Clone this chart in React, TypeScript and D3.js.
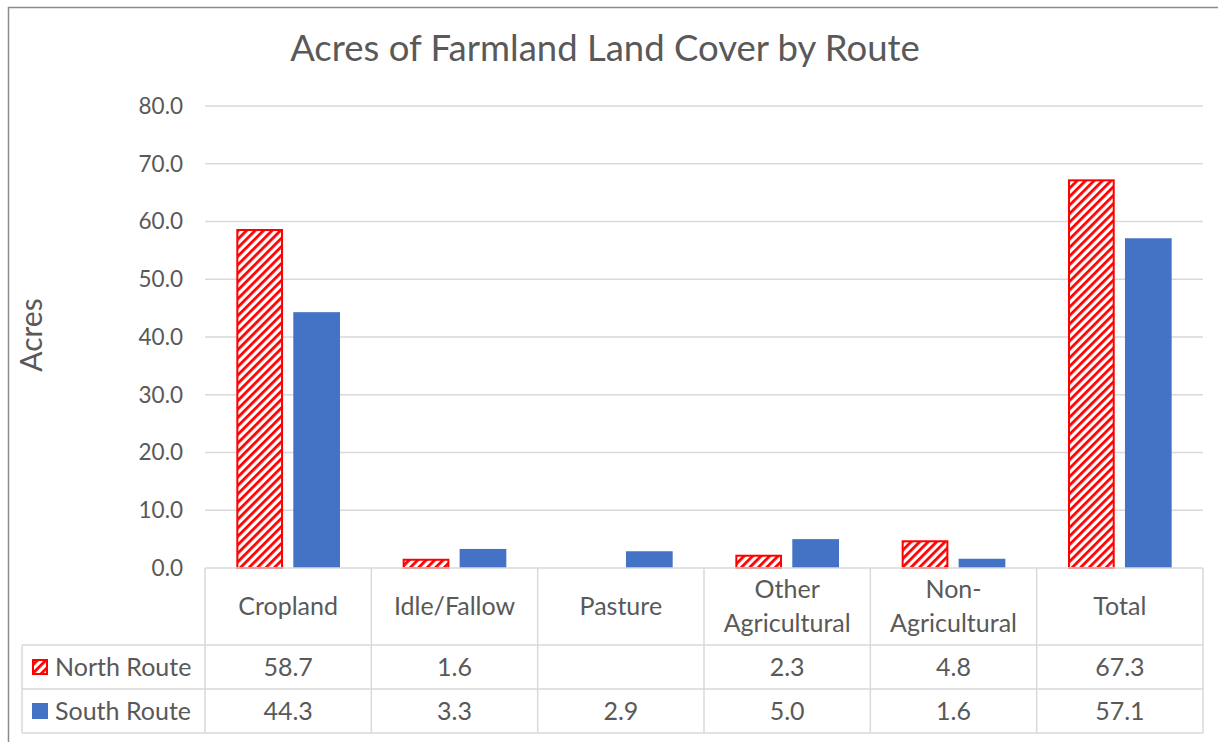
import React, { useEffect, useRef } from 'react';
import * as d3 from 'd3';

const categories = ['Cropland', 'Idle/Fallow', 'Pasture', 'Other Agricultural', 'Non-Agricultural', 'Total'];
const categoryLines = [['Cropland'], ['Idle/Fallow'], ['Pasture'], ['Other', 'Agricultural'], ['Non-', 'Agricultural'], ['Total']];
const seriesNames = ['North Route', 'South Route'];
const northValues: (number | null)[] = [58.7, 1.6, null, 2.3, 4.8, 67.3];
const southValues: (number | null)[] = [44.3, 3.3, 2.9, 5.0, 1.6, 57.1];
const yTicks = [0, 10, 20, 30, 40, 50, 60, 70, 80];

const FONT = 'Lato, "Open Sans", sans-serif';
const TEXT = '#595959';
const GRID = '#d9d9d9';
const RED = '#ff0000';
const BLUE = '#4472c4';

export default function App() {
  const svgRef = useRef<SVGSVGElement>(null);

  useEffect(() => {
    document.body.style.margin = '0';
    if (!svgRef.current) return;
    const svg = d3.select(svgRef.current);
    svg.selectAll('*').remove();

    const W = 1218, H = 742;
    const plot = { left: 205, right: 1203, top: 106, bottom: 568 };
    const rowY = [645, 689, 733];
    const legendLeft = 22;

    svg.attr('width', W).attr('height', H).style('background', '#fff');

    // hatch pattern
    const defs = svg.append('defs');
    const pat = defs.append('pattern')
      .attr('id', 'hatch')
      .attr('patternUnits', 'userSpaceOnUse')
      .attr('width', 6)
      .attr('height', 6)
      .attr('patternTransform', 'rotate(45)');
    pat.append('rect').attr('width', 6).attr('height', 6).attr('fill', '#fff');
    pat.append('rect').attr('width', 2.8).attr('height', 6).attr('fill', RED);

    // outer frame (only top/left visible)
    svg.append('rect')
      .attr('x', 8.5).attr('y', 7.5)
      .attr('width', W + 20).attr('height', H + 20)
      .attr('fill', 'none')
      .attr('stroke', '#8c8c8c')
      .attr('stroke-width', 1.5);

    // title
    svg.append('text')
      .attr('x', 605).attr('y', 61)
      .attr('text-anchor', 'middle')
      .style('font-family', FONT)
      .style('font-size', '36.5px')
      .attr('fill', TEXT)
      .text('Acres of Farmland Land Cover by Route');

    const x = d3.scaleBand().domain(categories).range([plot.left, plot.right]).padding(0);
    const xInner = d3.scaleBand().domain(seriesNames).range([0, x.bandwidth()]).paddingInner(0.18).paddingOuter(0.55);
    const y = d3.scaleLinear().domain([0, 80]).range([plot.bottom, plot.top]);

    // gridlines
    svg.append('g')
      .selectAll('line')
      .data(yTicks.filter((t) => t > 0))
      .enter()
      .append('line')
      .attr('x1', plot.left).attr('x2', plot.right)
      .attr('y1', (d) => y(d)).attr('y2', (d) => y(d))
      .attr('stroke', GRID).attr('stroke-width', 1.5);

    // y tick labels
    svg.append('g')
      .selectAll('text')
      .data(yTicks)
      .enter()
      .append('text')
      .attr('x', 183)
      .attr('y', (d) => y(d))
      .attr('dy', '0.35em')
      .attr('text-anchor', 'end')
      .style('font-family', FONT)
      .style('font-size', '22.5px')
      .attr('fill', TEXT)
      .text((d) => d3.format('.1f')(d));

    // y axis title
    svg.append('text')
      .attr('transform', 'translate(42,335) rotate(-90)')
      .attr('text-anchor', 'middle')
      .style('font-family', FONT)
      .style('font-size', '30px')
      .attr('fill', TEXT)
      .text('Acres');

    // bars
    const series = [
      { name: seriesNames[0], values: northValues },
      { name: seriesNames[1], values: southValues },
    ];
    series.forEach((s, si) => {
      svg.append('g')
        .selectAll('rect')
        .data(s.values.map((v, i) => ({ v, cat: categories[i] })).filter((d) => d.v != null))
        .enter()
        .append('rect')
        .attr('x', (d) => x(d.cat)! + xInner(s.name)! + (si === 0 ? 1 : 0))
        .attr('width', xInner.bandwidth() - (si === 0 ? 2 : 0))
        .attr('y', (d) => y(d.v as number) + (si === 0 ? 1 : 0))
        .attr('height', (d) => y(0) - y(d.v as number) - (si === 0 ? 1 : 0))
        .attr('fill', si === 0 ? 'url(#hatch)' : BLUE)
        .attr('stroke', si === 0 ? RED : 'none')
        .attr('stroke-width', 2);
    });

    // data table grid
    const grid = svg.append('g').attr('stroke', GRID).attr('stroke-width', 1.5);
    grid.append('line').attr('x1', plot.left).attr('x2', plot.right).attr('y1', plot.bottom).attr('y2', plot.bottom);
    rowY.forEach((ry) => {
      grid.append('line').attr('x1', legendLeft).attr('x2', plot.right).attr('y1', ry).attr('y2', ry);
    });
    grid.append('line').attr('x1', legendLeft).attr('x2', legendLeft).attr('y1', rowY[0]).attr('y2', rowY[2]);
    const bounds = categories.map((c) => x(c)!).concat([plot.right]);
    bounds.forEach((bx) => {
      grid.append('line').attr('x1', bx).attr('x2', bx).attr('y1', plot.bottom).attr('y2', rowY[2]);
    });

    // category labels
    const headerMid = (plot.bottom + rowY[0]) / 2;
    categoryLines.forEach((lines, i) => {
      const cx = x(categories[i])! + x.bandwidth() / 2;
      const t = svg.append('text')
        .attr('text-anchor', 'middle')
        .style('font-family', FONT)
        .style('font-size', '25px')
        .attr('fill', TEXT);
      lines.forEach((ln, li) => {
        const off = (li - (lines.length - 1) / 2) * 34;
        t.append('tspan')
          .attr('x', cx)
          .attr('y', headerMid + off)
          .attr('dy', '0.35em')
          .text(ln);
      });
    });

    // table rows
    const rowVals = [northValues, southValues];
    rowVals.forEach((vals, ri) => {
      const cy = (rowY[ri] + rowY[ri + 1]) / 2;
      // legend key
      if (ri === 0) {
        svg.append('rect')
          .attr('x', 33).attr('y', cy - 7).attr('width', 14).attr('height', 14)
          .attr('fill', 'url(#hatch)').attr('stroke', RED).attr('stroke-width', 2);
      } else {
        svg.append('rect')
          .attr('x', 32).attr('y', cy - 8).attr('width', 16).attr('height', 16)
          .attr('fill', BLUE);
      }
      svg.append('text')
        .attr('x', 55).attr('y', cy).attr('dy', '0.35em')
        .style('font-family', FONT)
        .style('font-size', '25px')
        .attr('fill', TEXT)
        .text(seriesNames[ri]);
      vals.forEach((v, i) => {
        if (v == null) return;
        svg.append('text')
          .attr('x', x(categories[i])! + x.bandwidth() / 2)
          .attr('y', cy).attr('dy', '0.35em')
          .attr('text-anchor', 'middle')
          .style('font-family', FONT)
          .style('font-size', '25px')
          .attr('fill', TEXT)
          .text(d3.format('.1f')(v));
      });
    });
  }, []);

  return <svg ref={svgRef} style={{ display: 'block' }} />;
}
